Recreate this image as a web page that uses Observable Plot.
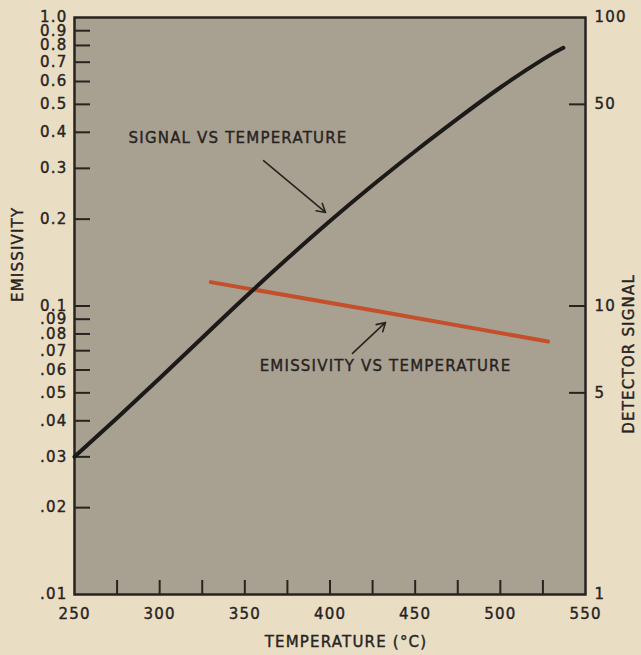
<!DOCTYPE html>
<html>
<head>
<meta charset="utf-8">
<script src="https://cdn.jsdelivr.net/npm/d3@7"></script>
<script src="https://cdn.jsdelivr.net/npm/@observablehq/plot@0.6"></script>
<style>
  html, body { margin: 0; padding: 0; background: #e9dec4; }
  svg text { letter-spacing: 1.2px; }
</style>
</head>
<body>
<div id="chart"></div>
<script>
// ---- data ----
const signalTemps = [250, 275, 300, 325, 350, 375, 400, 425, 450, 475, 500, 525, 537];
const signalValues = [3.0, 4.09, 5.62, 7.76, 10.7, 14.6, 19.7, 26.2, 34.4, 44.6, 57.2, 71.6, 78.5];

const emissTemps = [330, 430, 528];
const emissValues = [0.121, 0.0955, 0.0753];

const leftTicks = [1, 0.9, 0.8, 0.7, 0.6, 0.5, 0.4, 0.3, 0.2, 0.1, 0.09, 0.08, 0.07, 0.06, 0.05, 0.04, 0.03, 0.02, 0.01];
const leftLabels = ["1.0", "0.9", "0.8", "0.7", "0.6", "0.5", "0.4", "0.3", "0.2", "0.1", ".09", ".08", ".07", ".06", ".05", ".04", ".03", ".02", ".01"];
const leftTickMarks = [0.9, 0.8, 0.7, 0.6, 0.5, 0.4, 0.3, 0.2, 0.1, 0.09, 0.08, 0.07, 0.06, 0.05, 0.04, 0.03, 0.02];

const rightTicks = [100, 50, 10, 5, 1];
const rightLabels = ["100", "50", "10", "5", "1"];
const rightTickMarks = [50, 10, 5];

const xTicks = [250, 300, 350, 400, 450, 500, 550];
const xLabels = ["250", "300", "350", "400", "450", "500", "550"];
const xTickMarks = [275, 300, 325, 350, 375, 400, 425, 450, 475, 500, 525];

const annotationText = ["SIGNAL VS TEMPERATURE", "EMISSIVITY VS TEMPERATURE"];
const annotationT = [346, 432.6];
const annotationE = [0.381, 0.0617];
const arrowFromT = [361, 413.2];
const arrowFromE = [0.319, 0.0685];
const arrowToT = [397.4, 432.6];
const arrowToE = [0.211, 0.0877];

// ---- build ----
const ink = "#28231f";
const signalData = signalTemps.map((t, i) => ({t, y: signalValues[i] / 100}));
const emissData = emissTemps.map((t, i) => ({t, y: emissValues[i]}));
const leftData = leftTicks.map((v, i) => ({v, s: leftLabels[i]}));
const rightData = rightTicks.map((v, i) => ({v: v / 100, s: rightLabels[i]}));
const xData = xTicks.map((v, i) => ({v, s: xLabels[i]}));
const annots = annotationText.map((s, i) => ({s, t: annotationT[i], e: annotationE[i]}));
const arrows = arrowFromT.map((t, i) => ({x1: t, y1: arrowFromE[i], x2: arrowToT[i], y2: arrowToE[i]}));

const txt = {fill: ink, stroke: ink, strokeWidth: 0.4, fontSize: 15};

const chart = Plot.plot({
  width: 641,
  height: 655,
  marginLeft: 74,
  marginRight: 56,
  marginTop: 17,
  marginBottom: 61,
  x: {domain: [250, 550], axis: null},
  y: {type: "log", domain: [0.01, 1], axis: null},
  style: {background: "#e9dec4", color: ink, fontFamily: "DejaVu Sans", fontSize: "15px"},
  marks: [
    Plot.frame({fill: "#a8a192", stroke: "none"}),
    Plot.ruleY(leftTickMarks, {insetRight: 495, stroke: ink, strokeWidth: 2}),
    Plot.ruleY(rightTickMarks.map(v => v / 100), {insetLeft: 495, stroke: ink, strokeWidth: 2}),
    Plot.ruleX(xTickMarks, {insetTop: 563, stroke: ink, strokeWidth: 2}),
    Plot.frame({stroke: ink, strokeWidth: 2.5}),
    Plot.text(leftData, {y: "v", text: "s", frameAnchor: "left", textAnchor: "end", dx: -7, ...txt}),
    Plot.text(rightData, {y: "v", text: "s", frameAnchor: "right", textAnchor: "start", dx: 9, ...txt}),
    Plot.text(xData, {x: "v", text: "s", frameAnchor: "bottom", dy: 24, ...txt}),
    Plot.line(emissData, {x: "t", y: "y", stroke: "#c4502b", strokeWidth: 4, strokeLinecap: "round"}),
    Plot.line(signalData, {x: "t", y: "y", stroke: "#1c1a18", strokeWidth: 4, curve: "natural", strokeLinecap: "round"}),
    Plot.arrow(arrows, {x1: "x1", y1: "y1", x2: "x2", y2: "y2", stroke: ink, strokeWidth: 1.6, headLength: 9}),
    Plot.text(annots, {x: "t", y: "e", text: "s", ...txt}),
    Plot.text(["EMISSIVITY"], {frameAnchor: "left", dx: -56, dy: -4, rotate: -90, ...txt}),
    Plot.text(["DETECTOR SIGNAL"], {frameAnchor: "right", dx: 44, dy: -32, rotate: -90, ...txt}),
    Plot.text(["TEMPERATURE (°C)"], {frameAnchor: "bottom", dx: 16, dy: 52, ...txt})
  ]
});
document.getElementById("chart").appendChild(chart);
</script>
</body>
</html>
